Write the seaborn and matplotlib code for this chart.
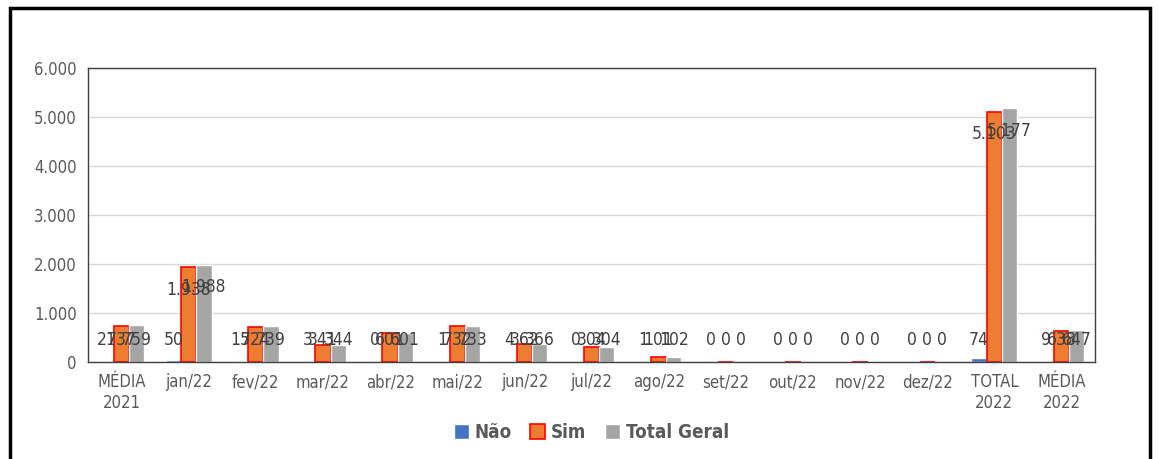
import pandas as pd
import seaborn as sns
import matplotlib.pyplot as plt
from matplotlib.patches import Rectangle
from matplotlib.ticker import FuncFormatter

# values
categories = ['MÉDIA\n2021', 'jan/22', 'fev/22', 'mar/22', 'abr/22', 'mai/22', 'jun/22',
              'jul/22', 'ago/22', 'set/22', 'out/22', 'nov/22', 'dez/22', 'TOTAL\n2022', 'MÉDIA\n2022']
nao = [21, 50, 15, 3, 0, 1, 4, 0, 1, 0, 0, 0, 0, 74, 9]
sim = [737, 1938, 724, 341, 601, 732, 362, 304, 101, 0, 0, 0, 0, 5103, 638]
total = [759, 1988, 739, 344, 601, 733, 366, 304, 102, 0, 0, 0, 0, 5177, 647]
series = ['Não', 'Sim', 'Total Geral']
colors = ['#4472C4', '#ED7D31', '#A5A5A5']


def fmt(v):
    return f'{int(v):,}'.replace(',', '.')


df = pd.DataFrame({
    'Categoria': categories * 3,
    'Serie': [series[0]] * len(categories) + [series[1]] * len(categories) + [series[2]] * len(categories),
    'Valor': nao + sim + total,
})

sns.set_style('white')
plt.rcParams['font.family'] = ['DejaVu Sans']
plt.rcParams['font.stretch'] = 'condensed'

fig = plt.figure(figsize=(11.59, 4.59), dpi=100)
ax = fig.add_axes([0.0759, 0.2113, 0.8689, 0.6406])

sns.barplot(data=df, x='Categoria', y='Valor', hue='Serie', palette=colors,
            width=0.68, ax=ax, saturation=1, errorbar=None)

# Sim bars get a red outline
for bar in ax.containers[1]:
    bar.set_edgecolor('#FF0000')
    bar.set_linewidth(1.2)

# data labels, placed near the top of each bar
for cont in ax.containers:
    for bar in cont:
        v = bar.get_height()
        y = max(v - 460, 450)
        ax.text(bar.get_x() + bar.get_width() / 2, y, fmt(v), ha='center', va='center',
                fontsize=12.5, color='#404040')

ax.set_ylim(0, 6000)
ax.set_yticks(range(0, 6001, 1000))
ax.yaxis.set_major_formatter(FuncFormatter(lambda v, p: fmt(v)))
ax.yaxis.grid(True, color='#D9D9D9', linewidth=1)
ax.set_axisbelow(True)
ax.set_xlabel('')
ax.set_ylabel('')
ax.tick_params(axis='both', labelsize=12, colors='#595959', length=0, pad=8)
for s in ax.spines.values():
    s.set_color('#404040')
    s.set_linewidth(1)

ax.legend().remove()
handles = [Rectangle((0, 0), 1, 1, facecolor=colors[0]),
           Rectangle((0, 0), 1, 1, facecolor=colors[1], edgecolor='#FF0000', linewidth=1.2),
           Rectangle((0, 0), 1, 1, facecolor=colors[2])]
leg = fig.legend(handles, series, loc='center', bbox_to_anchor=(0.51, 0.058), ncol=3,
                 frameon=False, handlelength=0.8, handleheight=0.8, handletextpad=0.3,
                 columnspacing=1.0, prop={'size': 13.5, 'weight': 'bold', 'stretch': 'condensed'})
for t in leg.get_texts():
    t.set_color('#595959')

# outer chart frame
fig.patches.append(Rectangle((0.009, -0.01), 0.983, 0.992, transform=fig.transFigure,
                             fill=False, edgecolor='black', linewidth=2.5))

fig.savefig('out.png', dpi=100)
